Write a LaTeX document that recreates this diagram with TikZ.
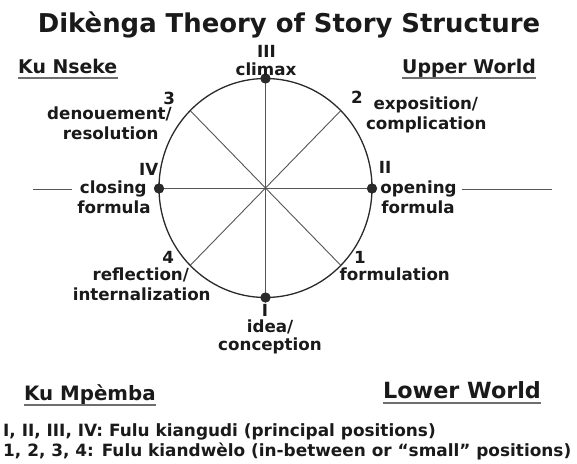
\documentclass[tikz,border=0pt]{standalone}
\usepackage{fontspec}
\setmainfont{DejaVu Sans}
\definecolor{ink}{HTML}{1A1A1A}
\definecolor{rim}{HTML}{2A2A2A}
\definecolor{spoke}{HTML}{555555}
\definecolor{uline}{HTML}{6E6E6E}
\begin{document}
\begin{tikzpicture}[x=1pt,y=-1pt,
  lbl/.style={font=\fontsize{16.7}{20}\selectfont\bfseries, text=ink, inner sep=0pt, anchor=base},
  hdr/.style={text=ink, inner sep=0pt, anchor=base west},
  titlestyle/.style={font=\fontsize{25.9}{30}\selectfont\bfseries, text=ink, inner sep=0pt, anchor=base},
  legend/.style={font=\fontsize{16.9}{20}\selectfont\bfseries, text=ink, inner sep=0pt, anchor=base west},
  dot/.style={circle, fill=rim, minimum size=10pt, inner sep=0pt},
  spokeline/.style={draw=spoke, line width=0.9pt},
  rimline/.style={draw=rim, line width=1.3pt},
  uline/.style={draw=uline, line width=1.8pt}
]
\useasboundingbox (0,0) rectangle (577,463);
\fill[white] (0,0) rectangle (577,463);

% circle geometry
\coordinate (O) at (265.5,188);
\coordinate (p1) at (340.8,265.4);
\coordinate (p2) at (340.8,110.6);
\coordinate (p3) at (190.2,110.6);
\coordinate (p4) at (190.2,265.4);
\coordinate (lw1) at (32.7,189);
\coordinate (lw2) at (71.7,189);
\coordinate (rw1) at (461.7,189.5);
\coordinate (rw2) at (551.7,189.5);

\node[dot] (pIII) at (265.5,78.5) {};
\node[dot] (pI) at (265.5,297.5) {};
\node[dot] (pIV) at (159,188.5) {};
\node[dot] (pII) at (372,188.5) {};

\draw[spokeline] (pIII.center) -- (pI.center);
\draw[spokeline] (pIV.center) -- (pII.center);
\draw[spokeline] (p3) -- (p1);
\draw[spokeline] (p2) -- (p4);
\draw[spokeline] (lw1) -- (lw2);
\draw[spokeline] (rw1) -- (rw2);
\draw[rimline] (O) ellipse [x radius=106.5pt, y radius=109.5pt];

\node[dot] at (pIII) {};
\node[dot] at (pI) {};
\node[dot] at (pIV) {};
\node[dot] at (pII) {};

% title
\node[titlestyle] (title) at (289,32) {Dikènga Theory of Story Structure};

% headers
\node[hdr, font=\fontsize{18.9}{22}\selectfont\bfseries] (kn) at (18,73) {Ku Nseke};
\node[hdr, font=\fontsize{18.9}{22}\selectfont\bfseries] (uw) at (402,73) {Upper World};
\node[hdr, font=\fontsize{19.8}{23}\selectfont\bfseries] (km) at (24,400.5) {Ku Mpèmba};
\node[hdr, font=\fontsize{22.3}{26}\selectfont\bfseries] (lw) at (383,398) {Lower World};
\foreach \n in {kn,uw,km,lw}
  \draw[uline] ([yshift=-4.8pt]\n.base west) -- ([yshift=-4.8pt]\n.base east);

% position labels
\node[lbl] (tIII) at (266.5,57) {III};
\node[lbl] (tclimax) at (266,75.5) {climax};

\node[lbl] (t3) at (169.3,104.3) {3};
\node[lbl] (tden) at (109.5,119.3) {denouement/};
\node[lbl] (tres) at (110.8,139) {resolution};

\node[lbl] (t2) at (357,103.3) {2};
\node[lbl] (texp) at (425.8,109) {exposition/};
\node[lbl] (tcom) at (426.2,129) {complication};

\node[lbl] (tIV) at (148.8,175.7) {IV};
\node[lbl] (tclo) at (113.3,193.5) {closing};
\node[lbl] (tfl) at (114,213) {formula};

\node[lbl] (tII) at (385,173.3) {II};
\node[lbl] (tope) at (418.5,193.5) {opening};
\node[lbl] (tfr) at (418,213) {formula};

\node[lbl] (t4) at (168.3,263.3) {4};
\node[lbl] (tref) at (140.8,280.7) {reflection/};
\node[lbl] (tint) at (141.7,300.7) {internalization};

\node[lbl] (t1) at (360,263.3) {1};
\node[lbl] (tfor) at (394.7,280.7) {formulation};

\node[lbl] (tI) at (265,316) {I};
\node[lbl] (tidea) at (270,332.7) {idea/};
\node[lbl] (tcon) at (270,350.7) {conception};

% legend
\node[legend] (leg1) at (3,436.7) {I, II, III, IV: Fulu kiangudi (principal positions)};
\node[legend] (leg2) at (3,456) {1, 2, 3, 4: Fulu kiandwèlo (in-between or “small” positions)};
\end{tikzpicture}
\end{document}
